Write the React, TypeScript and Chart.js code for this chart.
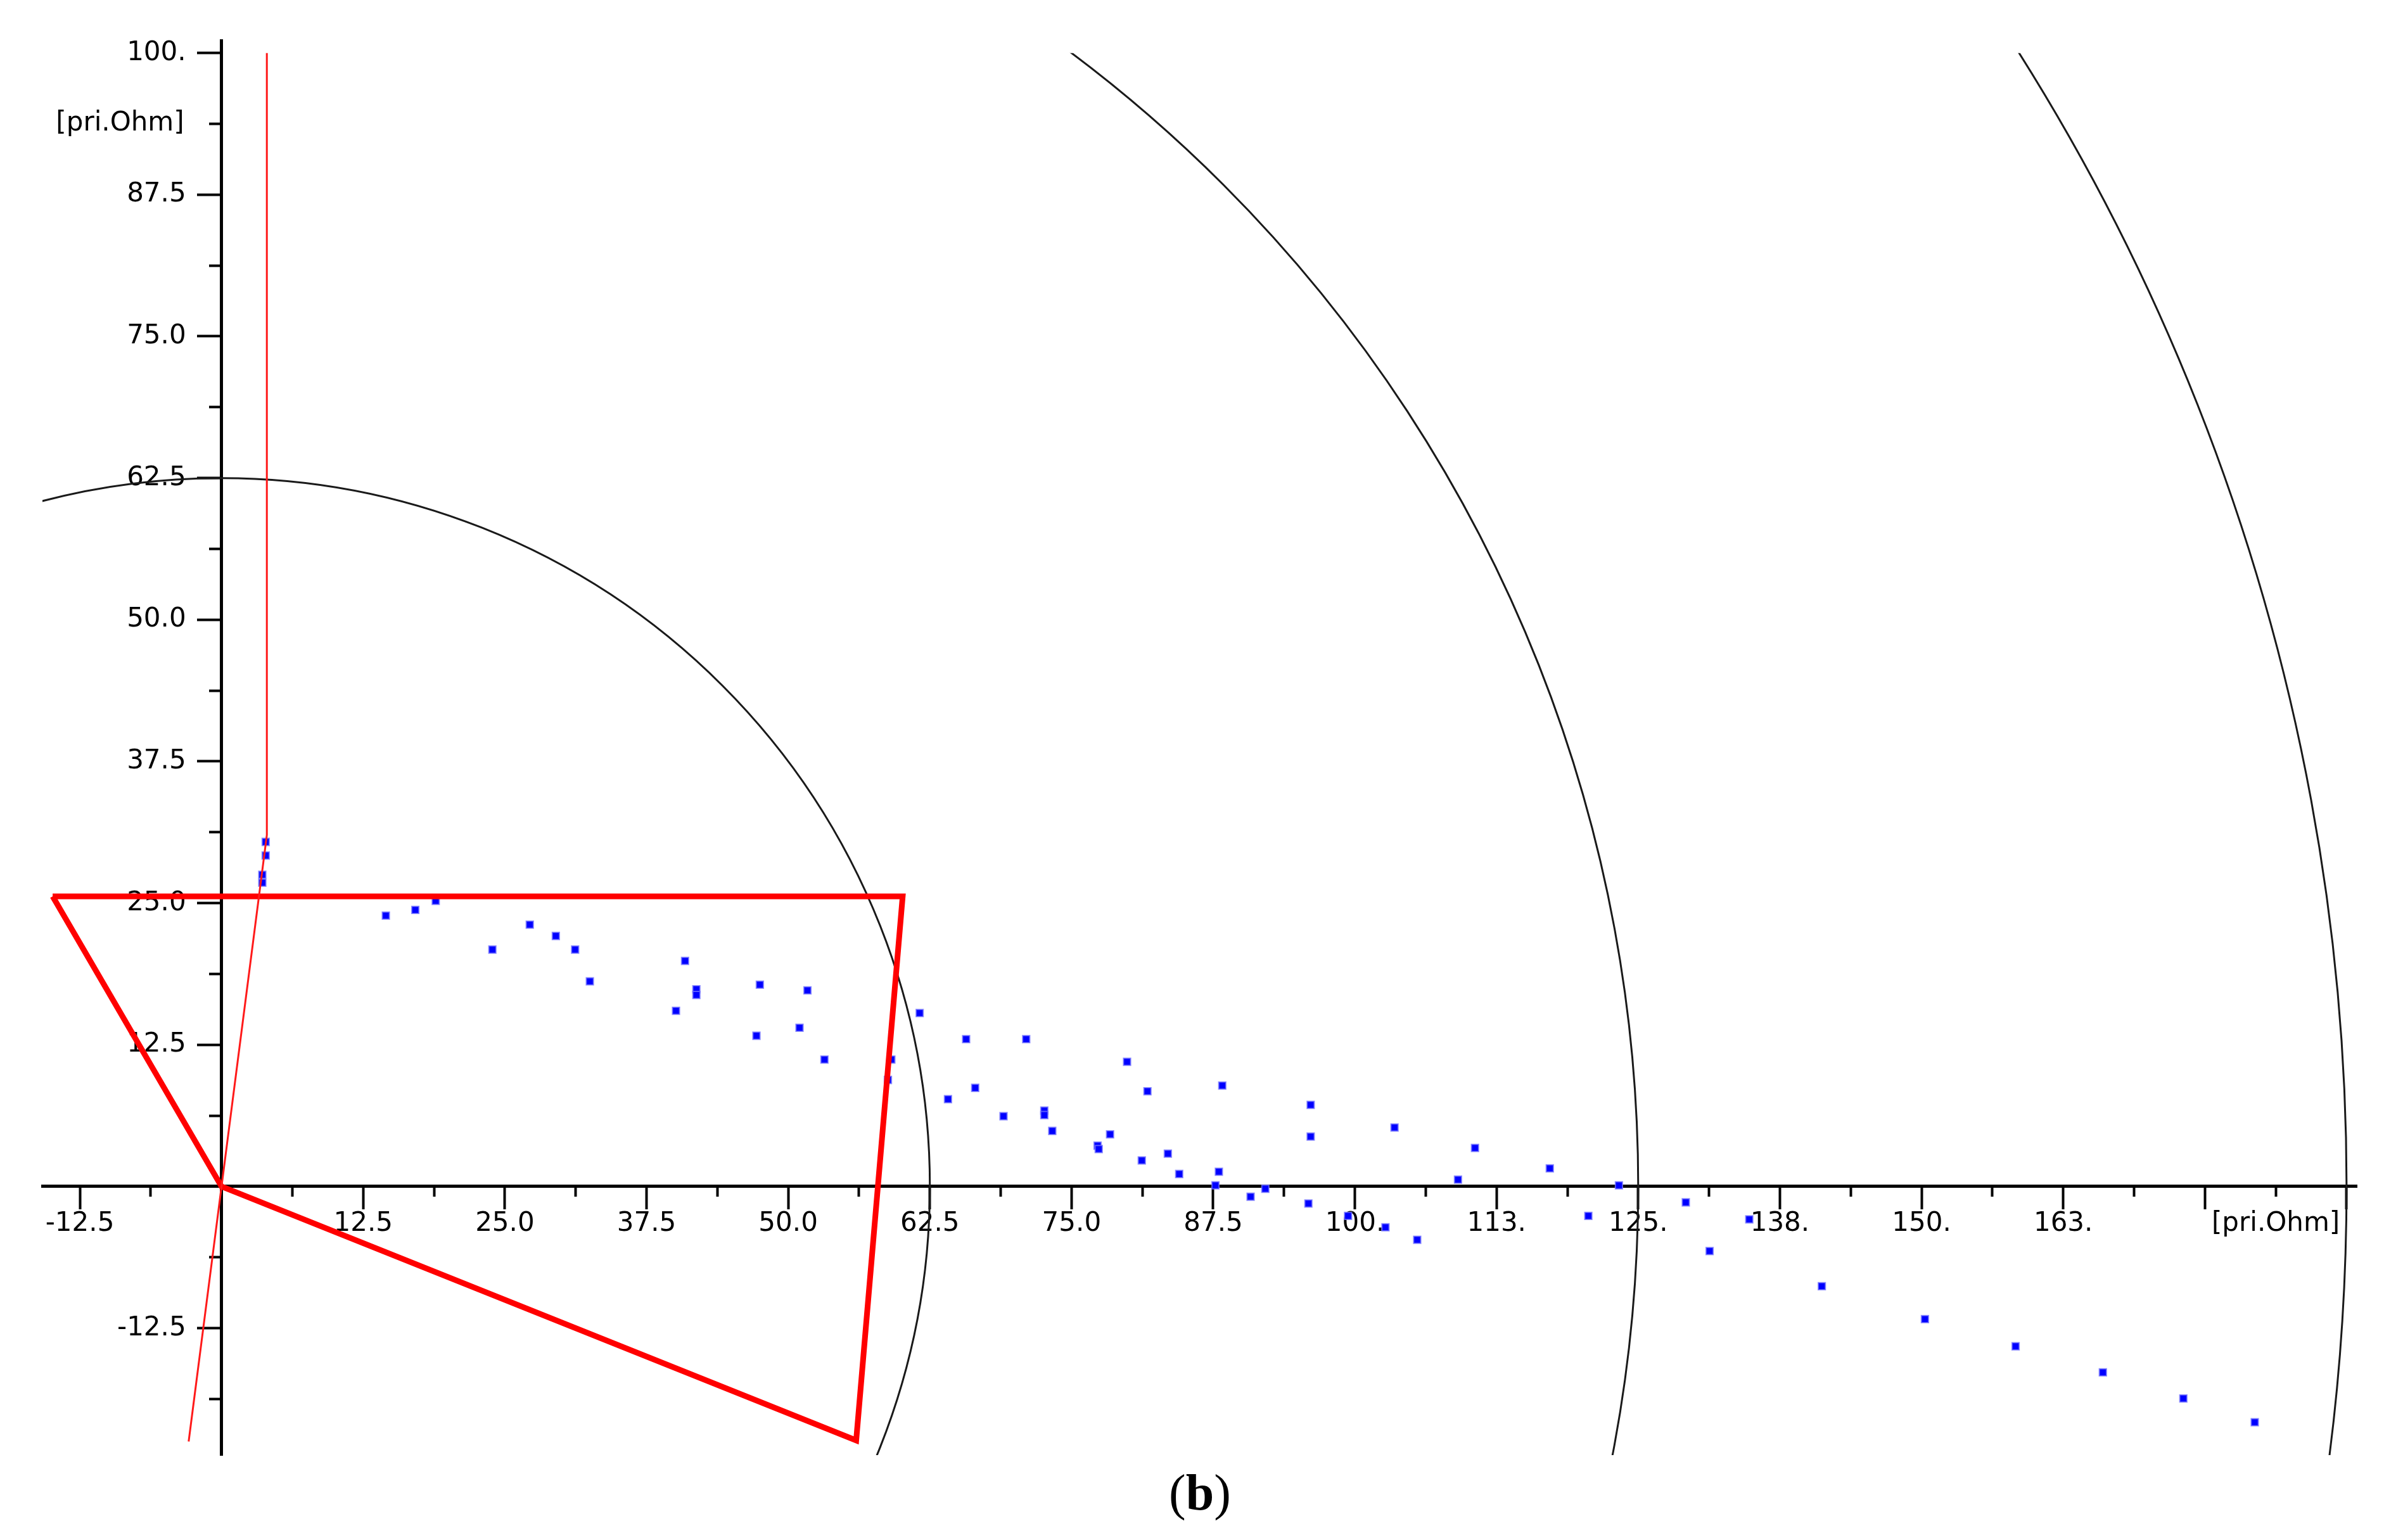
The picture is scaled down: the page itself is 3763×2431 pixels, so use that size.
import React, { useEffect, useRef } from "react";
import { Chart, registerables } from "chart.js";

Chart.register(...registerables);

// Measured impedance points (R, X) in primary Ohm
const pointsR = [
  3.9, 3.9, 3.6, 3.6,
  14.5, 17.1, 18.9, 23.9, 27.2, 29.5, 31.2, 32.5,
  40.1, 40.9, 41.9, 41.9, 47.2, 47.5, 51.0, 51.7, 53.2,
  58.8, 59.1, 61.6, 64.1, 65.7, 66.5, 69.0, 71.0, 72.6, 72.6, 73.3,
  77.3, 77.4, 78.4, 79.9, 81.2, 81.7, 83.5, 84.5,
  87.7, 88.0, 88.3, 90.8, 92.1, 95.9, 96.1, 96.1,
  99.4, 102.7, 103.5, 105.5, 109.1, 110.6, 117.2, 120.6, 123.3,
  129.2, 131.3, 134.8, 141.2, 150.3, 158.3, 166.0, 173.1, 179.4,
];
const pointsX = [
  30.4, 29.2, 27.5, 26.8,
  23.9, 24.4, 25.2, 20.9, 23.1, 22.1, 20.9, 18.1,
  15.5, 19.9, 17.4, 16.9, 13.3, 17.8, 14.0, 17.3, 11.2,
  9.4, 11.2, 15.3, 7.7, 13.0, 8.7, 6.2, 13.0, 6.7, 6.3, 4.9,
  3.6, 3.3, 4.6, 11.0, 2.3, 8.4, 2.9, 1.1,
  0.1, 1.3, 8.9, -0.9, -0.2, -1.5, 4.4, 7.2,
  -2.6, -3.6, 5.2, -4.7, 0.6, 3.4, 1.6, -2.6, 0.1,
  -1.4, -5.7, -2.9, -8.8, -11.7, -14.1, -16.4, -18.7, -20.8,
];

// Protection zone polygon (thick red)
const zoneR = [-14.9, 60.1, 56.0, 0, -14.9];
const zoneX = [25.6, 25.6, -22.4, 0, 25.6];

// Thin red characteristic line
const lineR = [4.0, 4.0, -2.9];
const lineX = [100, 31, -22.5];

// Circles centred at the origin (drawn up to X = 100)
const circleRadii = [62.5, 125, 187.5];
const CIRCLE_TOP = 100;

// Axis ranges
const X_MIN = -15.8;
const X_MAX = 188.4;
const Y_MIN = -23.7;
const Y_MAX = 101.1;

// Ticks and labels
const xMajorTicks = [-12.5, 0, 12.5, 25, 37.5, 50, 62.5, 75, 87.5, 100, 112.5, 125, 137.5, 150, 162.5, 175, 187.5];
const xMajorLabels = ["-12.5", "", "12.5", "25.0", "37.5", "50.0", "62.5", "75.0", "87.5", "100.", "113.", "125.", "138.", "150.", "163.", "", ""];
const xMinorTicks = [-6.25, 6.25, 18.75, 31.25, 43.75, 56.25, 68.75, 81.25, 93.75, 106.25, 118.75, 131.25, 143.75, 156.25, 168.75, 181.25];
const xMinorLabels = ["", "", "", "", "", "", "", "", "", "", "", "", "", "", "", "[pri.Ohm]"];
const yMajorTicks = [-12.5, 0, 12.5, 25, 37.5, 50, 62.5, 75, 87.5, 100];
const yMajorLabels = ["-12.5", "", "12.5", "25.0", "37.5", "50.0", "62.5", "75.0", "87.5", "100."];
const yMinorTicks = [-18.75, -6.25, 6.25, 18.75, 31.25, 43.75, 56.25, 68.75, 81.25, 93.75];
const yMinorLabels = ["", "", "", "", "", "", "", "", "", "[pri.Ohm]"];

const FONT_FAMILY = "'DejaVu Sans', Verdana, sans-serif";
const FONT_SIZE = 42;

const Y_MAJOR_TICK = 36;
const Y_MINOR_TICK = 20;
const Y_MAJOR_PAD = 20;
const Y_MINOR_PAD = 39;

const overlayPlugin = {
  id: "overlay",
  beforeDatasetsDraw(chart: any) {
    const { ctx, chartArea, scales } = chart;
    const sx = scales.x;
    const sy = scales.y;
    const cx = sx.getPixelForValue(0);
    const cy = sy.getPixelForValue(0);

    // y-axis labels (left of the centred axis)
    ctx.save();
    ctx.font = `${FONT_SIZE}px ${FONT_FAMILY}`;
    ctx.fillStyle = "#000";
    ctx.textAlign = "right";
    ctx.textBaseline = "middle";
    yMajorTicks.forEach((v, i) => {
      const t = yMajorLabels[i];
      if (t) ctx.fillText(t, cx - Y_MAJOR_TICK - Y_MAJOR_PAD, sy.getPixelForValue(v));
    });
    yMinorTicks.forEach((v, i) => {
      const t = yMinorLabels[i];
      if (t) ctx.fillText(t, cx - Y_MINOR_TICK - Y_MINOR_PAD, sy.getPixelForValue(v));
    });
    ctx.restore();

    // circles
    ctx.save();
    const top = sy.getPixelForValue(CIRCLE_TOP);
    ctx.beginPath();
    ctx.rect(chartArea.left, top, chartArea.right - chartArea.left, chartArea.bottom - top);
    ctx.clip();
    ctx.strokeStyle = "#1a1a1a";
    ctx.lineWidth = 3;
    circleRadii.forEach((r) => {
      const rx = sx.getPixelForValue(r) - cx;
      const ry = cy - sy.getPixelForValue(r);
      ctx.beginPath();
      ctx.ellipse(cx, cy, rx, ry, 0, 0, Math.PI * 2);
      ctx.stroke();
    });
    ctx.restore();
  },
};

function setTicks(values: number[]) {
  return (scale: any) => {
    scale.ticks = values.map((v) => ({ value: v }));
  };
}

export default function App() {
  const canvasRef = useRef<HTMLCanvasElement | null>(null);

  useEffect(() => {
    if (!canvasRef.current) return;
    const points = pointsR.map((r, i) => ({ x: r, y: pointsX[i] }));
    const zone = zoneR.map((r, i) => ({ x: r, y: zoneX[i] }));
    const line = lineR.map((r, i) => ({ x: r, y: lineX[i] }));
    const font = { family: FONT_FAMILY, size: FONT_SIZE };

    const chart = new Chart(canvasRef.current, {
      type: "scatter",
      data: {
        datasets: [
          {
            label: "line",
            data: line,
            showLine: true,
            borderColor: "#ff1a1a",
            borderWidth: 3,
            pointRadius: 0,
            xAxisID: "x",
            yAxisID: "y",
          },
          {
            label: "zone",
            data: zone,
            showLine: true,
            borderColor: "#ff0000",
            borderWidth: 9,
            borderJoinStyle: "miter",
            pointRadius: 0,
            xAxisID: "x",
            yAxisID: "y",
          },
          {
            label: "points",
            data: points,
            showLine: false,
            pointStyle: "rect",
            pointRadius: 8,
            pointBorderWidth: 2,
            pointBackgroundColor: "#0000ff",
            pointBorderColor: "rgba(120,120,255,0.75)",
            xAxisID: "x",
            yAxisID: "y",
          },
        ],
      },
      options: {
        responsive: false,
        animation: false,
        devicePixelRatio: 1,
        layout: { padding: { left: 67, right: 43, top: 64, bottom: 134 } },
        plugins: { legend: { display: false }, tooltip: { enabled: false }, title: { display: false } },
        scales: {
          x: {
            type: "linear",
            min: X_MIN,
            max: X_MAX,
            position: { y: 0 },
            afterBuildTicks: setTicks(xMajorTicks),
            ticks: {
              autoSkip: false,
              maxRotation: 0,
              minRotation: 0,
              padding: 0,
              color: "#000",
              font,
              callback: (_v: any, i: number) => xMajorLabels[i] ?? "",
            },
            grid: { display: true, drawOnChartArea: false, drawTicks: true, tickLength: 34, tickWidth: 4, tickColor: "#000" },
            border: { display: true, color: "#000", width: 5 },
          },
          xm: {
            type: "linear",
            axis: "x",
            min: X_MIN,
            max: X_MAX,
            position: { y: 0 },
            afterBuildTicks: setTicks(xMinorTicks),
            ticks: {
              autoSkip: false,
              maxRotation: 0,
              minRotation: 0,
              padding: 18,
              color: "#000",
              font,
              callback: (_v: any, i: number) => xMinorLabels[i] ?? "",
            },
            grid: { display: true, drawOnChartArea: false, drawTicks: true, tickLength: 16, tickWidth: 4, tickColor: "#000" },
            border: { display: false },
          },
          y: {
            type: "linear",
            min: Y_MIN,
            max: Y_MAX,
            position: { x: 0 },
            afterBuildTicks: setTicks(yMajorTicks),
            ticks: { display: false, autoSkip: false },
            grid: { display: true, drawOnChartArea: false, drawTicks: true, tickLength: Y_MAJOR_TICK, tickWidth: 4, tickColor: "#000" },
            border: { display: true, color: "#000", width: 5 },
          },
          ym: {
            type: "linear",
            axis: "y",
            min: Y_MIN,
            max: Y_MAX,
            position: { x: 0 },
            afterBuildTicks: setTicks(yMinorTicks),
            ticks: { display: false, autoSkip: false },
            grid: { display: true, drawOnChartArea: false, drawTicks: true, tickLength: Y_MINOR_TICK, tickWidth: 4, tickColor: "#000" },
            border: { display: false },
          },
        },
      } as any,
      plugins: [overlayPlugin],
    });
    return () => chart.destroy();
  }, []);

  return (
    <div style={{ position: "absolute", left: 0, top: 0, width: 3763, height: 2431, background: "#fff", overflow: "hidden" }}>
      <canvas ref={canvasRef} width={3763} height={2431} style={{ position: "absolute", left: 0, top: 0, width: 3763, height: 2431 }} />
      <div
        style={{
          position: "absolute",
          left: 1794,
          top: 2316,
          width: 200,
          textAlign: "center",
          fontFamily: "'Liberation Serif', 'Times New Roman', serif",
          fontSize: 80,
          lineHeight: "80px",
          color: "#000",
        }}
      >
        (<b>b</b>)
      </div>
    </div>
  );
}
